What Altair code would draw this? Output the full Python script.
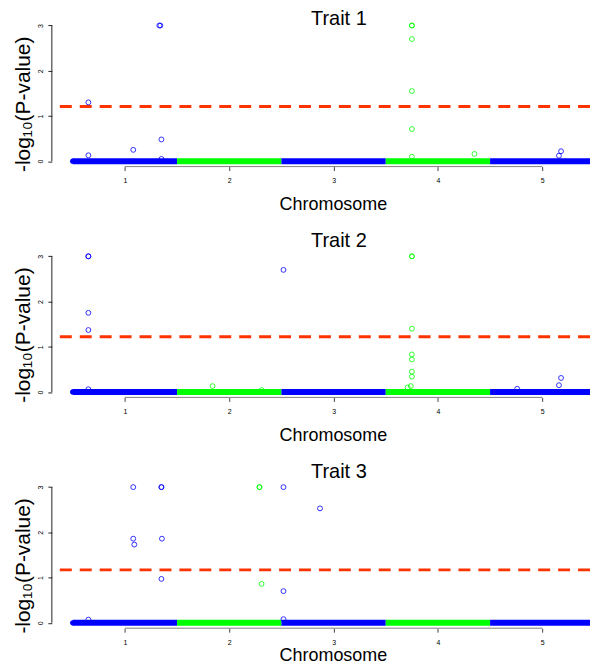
import altair as alt
import pandas as pd
import numpy as np

# ---------------- data ----------------
chrom_ids = [1, 2, 3, 4, 5]
chrom_start = [0.5, 1.5, 2.5, 3.5, 4.5]
chrom_end = [1.5, 2.5, 3.5, 4.5, 5.5]
chrom_colors = ["#0000FF", "#00FF00", "#0000FF", "#00FF00", "#0000FF"]

trait_names = ["Trait 1", "Trait 2", "Trait 3"]

t1_x = [0.65, 0.65, 1.08, 1.33, 1.34, 1.35, 1.35,
        3.75, 3.75, 3.75, 3.75, 3.75, 3.75, 4.35, 5.16, 5.18]
t1_y = [1.30, 0.13, 0.25, 3.0, 3.0, 0.48, 0.05,
        3.0, 3.0, 2.70, 1.55, 0.71, 0.10, 0.16, 0.12, 0.22]

t2_x = [0.65, 0.65, 0.65, 0.65, 0.65, 1.84, 2.31, 2.52,
        3.75, 3.75, 3.75, 3.75, 3.75, 3.75, 3.75, 3.74, 3.71,
        4.76, 5.16, 5.18]
t2_y = [3.0, 3.0, 1.75, 1.37, 0.06, 0.13, 0.04, 2.70,
        3.0, 3.0, 1.40, 0.83, 0.72, 0.45, 0.34, 0.13, 0.10,
        0.07, 0.15, 0.31]

t3_x = [0.65, 1.08, 1.08, 1.09, 1.35, 1.35, 1.355, 1.35,
        2.29, 2.29, 2.31, 2.52, 2.52, 2.52, 2.87]
t3_y = [0.07, 3.0, 1.86, 1.73, 3.0, 3.0, 1.86, 0.97,
        3.0, 3.0, 0.86, 3.0, 0.70, 0.08, 2.53]

trait_x = [t1_x, t2_x, t3_x]
trait_y = [t1_y, t2_y, t3_y]
thresholds = [1.21, 1.22, 1.17]

x_ticks = [1, 2, 3, 4, 5]
y_ticks = [0, 1, 2, 3]

# ---------------- layout ----------------
PX_PER_UNIT = 104.7
W = 540
H = 147
X_MIN = 0.3
X_MAX = X_MIN + W / PX_PER_UNIT
Y_MIN, Y_MAX = -0.12, 3.12
FONT = "Liberation Sans"
TITLE_OFFSETS = [-9, 0, 0]
XTITLE_PAD = [12, 12, 1]

xscale = alt.Scale(domain=[X_MIN, X_MAX], nice=False, zero=False)
yscale = alt.Scale(domain=[Y_MIN, Y_MAX], nice=False, zero=False)
cscale = alt.Scale(domain=chrom_ids, range=chrom_colors)

chrom_df = pd.DataFrame({"chrom": chrom_ids, "start": chrom_start, "end": chrom_end})
ends_df = pd.DataFrame({"chrom": [chrom_ids[0], chrom_ids[-1]],
                        "pos": [chrom_start[0], chrom_end[-1]]})


def panel(i):
    xs = trait_x[i]
    ys = trait_y[i]
    chrom = [int(np.floor(v + 0.5)) for v in xs]
    df = pd.DataFrame({"pos": xs, "logp": ys, "chrom": chrom})

    xaxis = alt.Axis(values=x_ticks, format="d", domain=False, grid=False,
                     tickSize=4, tickColor="#444", labelFontSize=7,
                     labelPadding=6, labelFont=FONT, labelColor="black",
                     title="Chromosome", titleFontSize=18, titleFont=FONT,
                     titleFontWeight="normal", titlePadding=XTITLE_PAD[i],
                     titleX=282, titleColor="black")
    yaxis = alt.Axis(values=y_ticks, format="d", domain=False, grid=False,
                     tickSize=4, tickColor="#222", labelFontSize=7,
                     labelAngle=270, labelPadding=4, labelFont=FONT,
                     labelColor="black",
                     title="-log\u2081\u2080(P-value)", titleFontSize=21,
                     titleFont=FONT, titleFontWeight="normal", titleAngle=270,
                     titleX=-22, titleY=84, titleBaseline="alphabetic",
                     titleAlign="center", titleColor="black")

    base = alt.Chart(chrom_df)
    band = base.mark_rule(strokeWidth=6, strokeCap="butt", clip=True).encode(
        x=alt.X("start:Q", scale=xscale, axis=xaxis),
        x2="end:Q",
        y=alt.datum(0, scale=yscale, axis=yaxis),
        color=alt.Color("chrom:N", scale=cscale, legend=None),
    )
    caps = alt.Chart(ends_df).mark_circle(size=28, opacity=1, clip=True).encode(
        x=alt.X("pos:Q", scale=xscale),
        y=alt.datum(0),
        color=alt.Color("chrom:N", scale=cscale, legend=None),
    )
    pts = alt.Chart(df).mark_point(shape="circle", filled=False, size=24,
                                   strokeWidth=1, opacity=0.8).encode(
        x=alt.X("pos:Q", scale=xscale),
        y=alt.Y("logp:Q", scale=yscale),
        color=alt.Color("chrom:N", scale=cscale, legend=None),
    )
    thr = alt.Chart(pd.DataFrame({"t": [thresholds[i]]})).mark_rule(
        color="#FF3300", strokeWidth=3, strokeDash=[12, 8]).encode(
        y=alt.Y("t:Q", scale=yscale))
    xline = alt.Chart(pd.DataFrame({"a": [x_ticks[0]], "b": [x_ticks[-1]],
                                    "y": [Y_MIN]})).mark_rule(
        color="#808080", strokeWidth=1).encode(
        x=alt.X("a:Q", scale=xscale), x2="b:Q", y=alt.Y("y:Q", scale=yscale))
    yline = alt.Chart(pd.DataFrame({"x": [X_MIN], "a": [y_ticks[0]],
                                    "b": [y_ticks[-1]]})).mark_rule(
        color="#222", strokeWidth=1).encode(
        x=alt.X("x:Q", scale=xscale), y=alt.Y("a:Q", scale=yscale), y2="b:Q")

    return alt.layer(band, caps, thr, pts, xline, yline).properties(
        width=W, height=H,
        title=alt.TitleParams(trait_names[i], fontSize=20, font=FONT,
                              fontWeight="normal", anchor="middle", dx=18,
                              offset=TITLE_OFFSETS[i], color="black"),
    )


chart = alt.vconcat(panel(0), panel(1), panel(2), spacing=17.6).properties(
    padding={"left": 4, "top": 0, "right": 0, "bottom": 0}
).configure(font=FONT).configure_view(stroke=None)

chart.save("out.html", embed_options={"renderer": "svg", "actions": False})
